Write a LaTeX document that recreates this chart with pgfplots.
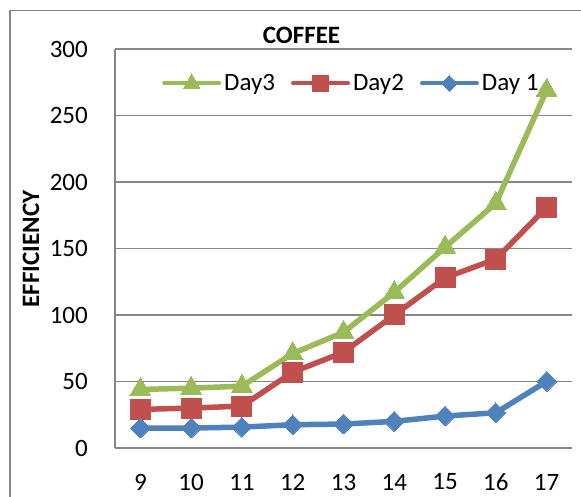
\documentclass[border=0pt]{standalone}
\usepackage{fontspec}
\setmainfont{Carlito}
\usepackage{pgfplots}
\pgfplotsset{compat=1.18}
\definecolor{cgreen}{HTML}{9BBB59}
\definecolor{cred}{HTML}{C0504D}
\definecolor{cblue}{HTML}{4F81BD}
\definecolor{cgrid}{HTML}{868686}
\begin{document}
\begin{tikzpicture}[x=1pt,y=1pt]
\path[use as bounding box] (0,0) rectangle (581,497);
\clip (0,0) rectangle (581,497);
\draw[cgrid, line width=1.6pt] (10,486.3) rectangle (600,-20);
\begin{axis}[
  at={(115pt,49pt)}, anchor=south west,
  width=457pt, height=399pt, scale only axis,
  xmin=8.5, xmax=17.5, ymin=0, ymax=300,
  xtick={9,...,17}, ytick={0,50,...,300},
  major tick length=0pt,
  ymajorgrids, grid style={cgrid, line width=1.5pt},
  axis x line*=bottom, axis y line*=left,
  axis line style={cgrid, line width=1.5pt},
  /pgf/number format/assume math mode=true,
  ticklabel style={font=\fontsize{25}{30}\selectfont},
  yticklabel style={anchor=east, inner sep=0pt, xshift=-27pt},
  xticklabel style={anchor=center, inner sep=0pt, yshift=-34pt},
  legend columns=3,
  legend style={at={(0.1028,0.9148)}, anchor=west, draw=none, fill=none,
    inner sep=0pt, font=\fontsize{25}{30}\selectfont,
    nodes={inner sep=0pt},
    /tikz/every odd column/.style={column sep=3pt},
    /tikz/every even column/.style={column sep=16pt}},
  legend image code/.code={\draw[#1, line width=4pt, mark repeat=2, mark phase=2, every mark/.append style={scale=0.8}] plot coordinates {(0pt,0pt) (27.5pt,0pt) (55pt,0pt)};},
  every axis plot/.append style={line width=5.5pt, line join=round, line cap=round},
]
\addplot[cgreen, mark=triangle*, mark size=12pt, mark options={line width=0pt, fill=cgreen, draw=cgreen}]
  coordinates {(9,44) (10,45) (11,46.5) (12,71) (13,87) (14,117) (15,151) (16,184) (17,269)};
\addlegendentry{Day3}
\addplot[cred, mark=square*, mark size=10pt, mark options={line width=0pt, fill=cred, draw=cred}]
  coordinates {(9,29) (10,30) (11,31.5) (12,57) (13,72) (14,100) (15,128) (16,142) (17,181)};
\addlegendentry{Day2}
\addplot[cblue, mark=square*, mark size=7pt, mark options={rotate=45, line width=0pt, fill=cblue, draw=cblue}]
  coordinates {(9,15) (10,15) (11,15.7) (12,17.5) (13,18) (14,20) (15,24) (16,26.5) (17,50)};
\addlegendentry{Day 1}
\end{axis}
\node[font=\bfseries\fontsize{25}{30}\selectfont] at (301.5,462) {COFFEE};
\node[rotate=90, font=\bfseries\fontsize{25}{30}\selectfont] at (31,248) {EFFICIENCY};
\end{tikzpicture}
\end{document}
